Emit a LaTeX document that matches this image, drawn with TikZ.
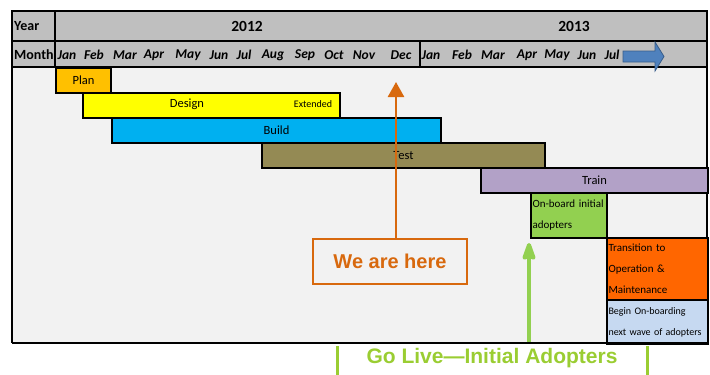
\documentclass[tikz,border=0pt]{standalone}
\usepackage{fontspec}
\setmainfont{Carlito}
\newfontfamily\arialfont{Liberation Sans}
\usepackage{tikz}
\usetikzlibrary{arrows.meta, positioning}
\definecolor{hdrgray}{HTML}{BFBFBF}
\definecolor{bodygray}{HTML}{F2F2F2}
\definecolor{planorange}{HTML}{FFC000}
\definecolor{designyellow}{HTML}{FFFF00}
\definecolor{buildblue}{HTML}{00B0F0}
\definecolor{testolive}{HTML}{948A54}
\definecolor{trainlilac}{HTML}{B2A1C7}
\definecolor{onboardgreen}{HTML}{92D050}
\definecolor{transorange}{HTML}{FF6600}
\definecolor{beginblue}{HTML}{C6D9F1}
\definecolor{hereorange}{HTML}{D8690E}
\definecolor{livegreen}{HTML}{9ACD32}
\definecolor{arrowblue}{HTML}{4F81BD}
\definecolor{arrowedge}{HTML}{385D8A}

\begin{document}
\begin{tikzpicture}[x=1pt, y=-1pt,
    bar/.style={rectangle, draw=black, line width=2pt, fill=#1, anchor=north west, inner sep=0pt, minimum height=25pt, font=\fontsize{12.5}{14}\selectfont},
    note/.style={bar=#1, align=left, inner xsep=1.5pt, font=\fontsize{11}{21}\selectfont},
    month/.style={font=\fontsize{13.5}{15}\selectfont\bfseries\itshape},
    hline/.style={line width=2pt},
]
\useasboundingbox (0,0) rectangle (710,375);

% Header and body
\fill[bodygray] (12,67) rectangle (707,343);
\fill[hdrgray] (12,10) rectangle (707,67);
\draw[hline] (12,11) -- (707,11);
\draw[hline] (12,41) -- (707,41);
\draw[hline] (12,67) -- (707,67);
\draw[hline] (55,10) -- (55,67);
\draw[hline] (420,41) -- (420,67);
\draw[line width=1.2pt] (12,10) -- (12,343);
\draw[line width=1.2pt] (707,10) -- (707,343);

\node[font=\fontsize{14}{16}\selectfont\bfseries, anchor=west, inner xsep=1pt] (year) at (13,26) {Year};
\node[font=\fontsize{14}{16}\selectfont\bfseries, anchor=west, inner xsep=1pt] (month) at (13,54.5) {Month};
\node[font=\fontsize{15.5}{17}\selectfont\bfseries] (y2012) at (247,26) {2012};
\node[font=\fontsize{15.5}{17}\selectfont\bfseries] (y2013) at (574,26) {2013};
\foreach \m/\x [count=\i] in {Jan/67, Feb/94, Mar/125, Apr/154, May/188, Jun/219, Jul/244, Aug/273, Sep/305, Oct/334, Nov/364, Dec/401, Jan/431, Feb/462, Mar/493, Apr/527, May/557, Jun/587, Jul/612} {
    \node[month] (mon\i) at (\x,55) {\m};
}
\filldraw[fill=arrowblue, draw=arrowedge, line width=0.8pt] (623,51) -- (655,51) -- (655,42) -- (664,56.5) -- (655,71) -- (655,62) -- (623,62) -- cycle;

% Phases
\foreach \n/\a/\b/\r/\c/\t in {plan/55/110/67/planorange/Plan, design/82/339/92/designyellow/, build/111/440/117/buildblue/Build, test/261/544/142/testolive/Test, train/480/707/167/trainlilac/Train} {
    \node[bar=\c, minimum width=\b-\a] (\n) at (\a,\r) {\t};
}
\node[font=\fontsize{12.5}{14}\selectfont] (designtxt) at (187,104.5) {Design};
\node[font=\fontsize{10}{12}\selectfont] (extended) at (313,104.5) {Extended};

\node[note=onboardgreen, text width=73pt, minimum height=45pt] (onboard) at (530,192) {On-board initial\\adopters};
\node[note=transorange, text width=98pt, minimum height=62pt] (transition) at (606,237) {Transition to\\Operation \&\\Maintenance};
\node[note=beginblue, text width=98pt, minimum height=44pt, font=\fontsize{10}{21}\selectfont] (begin) at (606,299) {Begin On-boarding\\next wave of adopters};

\draw[line width=2.5pt] (12,343) -- (708,343);

% We are here
\node[draw=hereorange, line width=2pt, text=hereorange, fill=bodygray, minimum width=154pt, minimum height=45pt, font=\arialfont\bfseries\fontsize{20}{24}\selectfont] (here) at (390,261.5) {We are here};
\coordinate (herehead) at (396,82);
\draw[hereorange, line width=2.5pt, -{Triangle[width=16pt, length=15pt]}] (here.north -| herehead) -- (herehead);

% Go live
\coordinate (livefoot) at (529,342);
\coordinate (livehead) at (529,243);
\draw[onboardgreen, line width=4pt, -{Stealth[width=15pt, length=22pt, inset=3pt, round]}] (livefoot) -- (livehead);
\node[text=livegreen, font=\arialfont\bfseries\fontsize{21}{25}\selectfont] (golive) at (492,358) {Go Live—Initial Adopters};
\draw[livegreen, line width=3pt] (337,346) -- (337,375);
\draw[livegreen, line width=3pt] (647,346) -- (647,375);

\end{tikzpicture}
\end{document}
